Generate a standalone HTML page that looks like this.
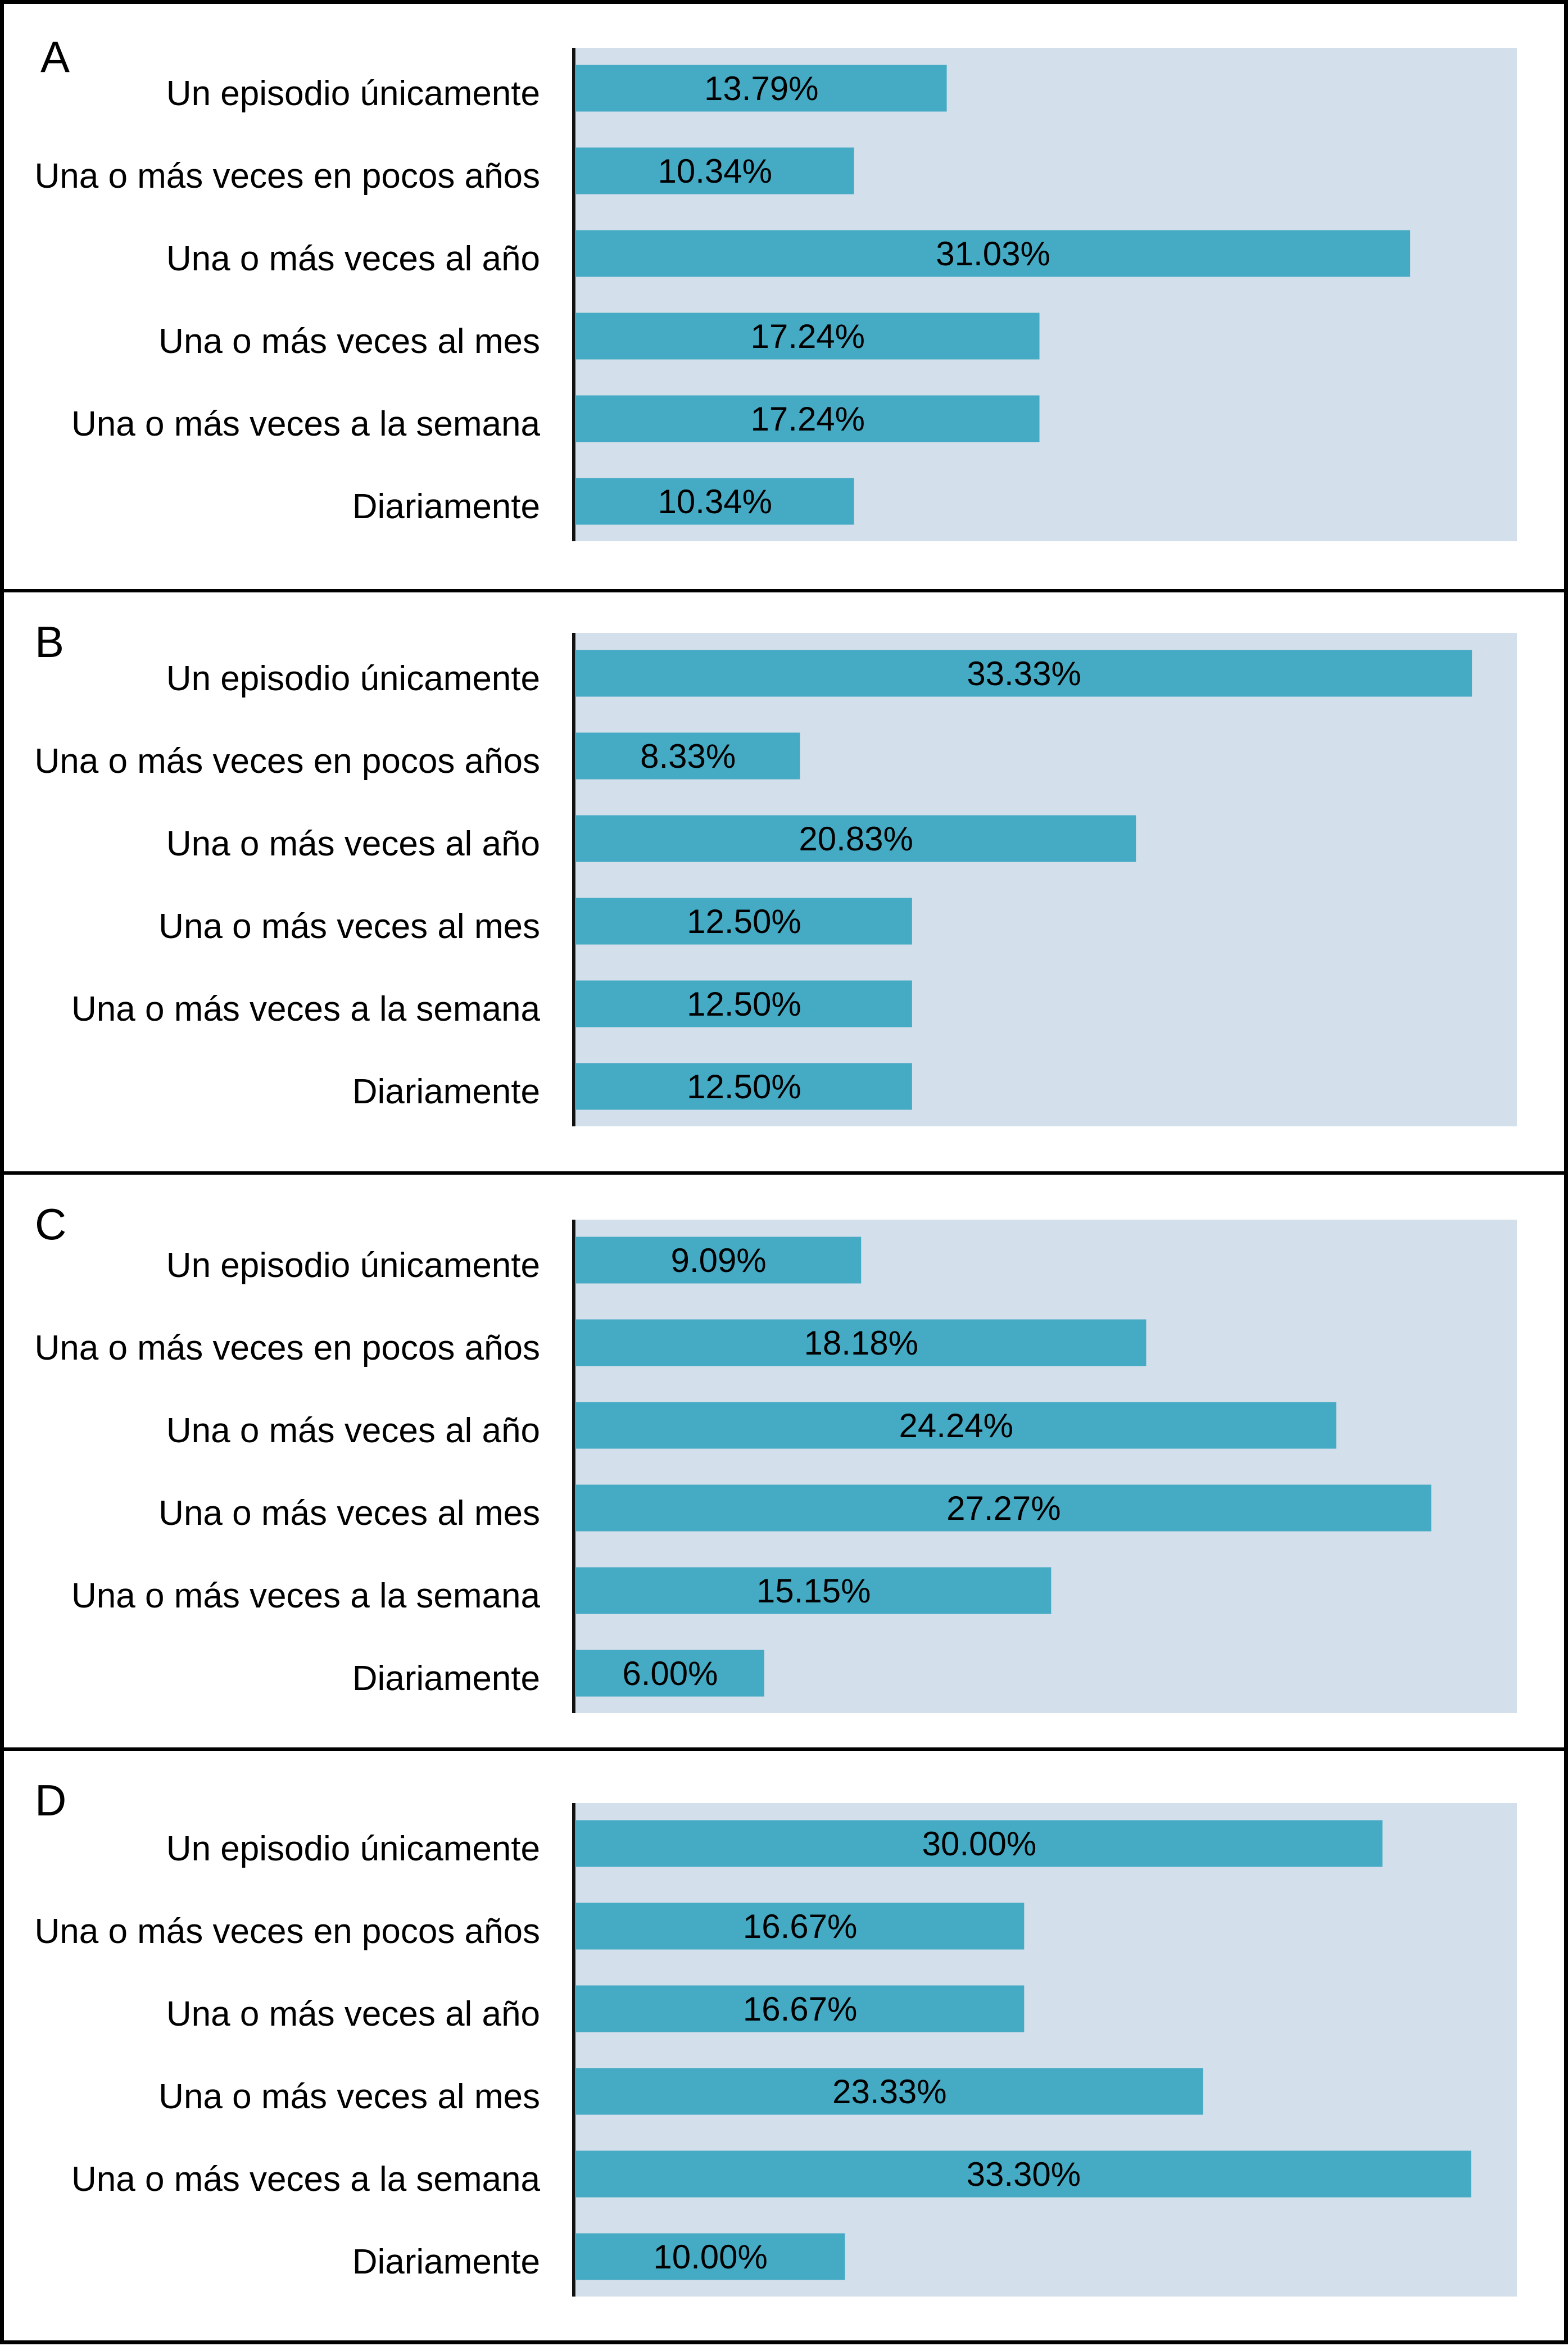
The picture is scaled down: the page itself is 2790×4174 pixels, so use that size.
<!DOCTYPE html>
<html><head><meta charset="utf-8"><style>
html,body{margin:0;padding:0;background:#fff;}
svg{display:block;font-family:"Liberation Sans",Arial,sans-serif;}
</style></head><body>
<svg id="chart" width="2790" height="4174" viewBox="0 0 2790 4174" xmlns="http://www.w3.org/2000/svg"></svg>
<script>
const categories = ["Un episodio únicamente","Una o más veces en pocos años","Una o más veces al año","Una o más veces al mes","Una o más veces a la semana","Diariamente"];
const panelLetters = ["A","B","C","D"];
const valuesA = [13.79,10.34,31.03,17.24,17.24,10.34];
const valuesB = [33.33,8.33,20.83,12.50,12.50,12.50];
const valuesC = [9.09,18.18,24.24,27.27,15.15,6.00];
const valuesD = [30.00,16.67,16.67,23.33,33.30,10.00];
const labelsA = ["13.79%","10.34%","31.03%","17.24%","17.24%","10.34%"];
const labelsB = ["33.33%","8.33%","20.83%","12.50%","12.50%","12.50%"];
const labelsC = ["9.09%","18.18%","24.24%","27.27%","15.15%","6.00%"];
const labelsD = ["30.00%","16.67%","16.67%","23.33%","33.30%","10.00%"];
const domainMax = [35,35,30,35];

const NS="http://www.w3.org/2000/svg";
const svg=document.getElementById('chart');
function mk(tag,attrs,parent){const e=document.createElementNS(NS,tag);for(const k in attrs)e.setAttribute(k,attrs[k]);(parent||svg).appendChild(e);return e;}

const allValues=[valuesA,valuesB,valuesC,valuesD];
const allLabels=[labelsA,labelsB,labelsC,labelsD];
const panelTops=[0,1051,2087,3112];
const bgTops=[85,1126,2170,3208];
const plotX0=1025, plotX1=2699, bgH=878, pitch=147, barH=83;

const frame=mk('rect',{x:3.5,y:3.5,width:2783,height:4164,fill:'none',stroke:'#000','stroke-width':7});



for(let p=0;p<4;p++){
  const g=mk('g',{});
  
  
  if(p>0){
    const sep=mk('line',{x1:0,x2:2790,y1:panelTops[p],y2:panelTops[p],stroke:'#000','stroke-width':6},g);
    
    
  }
  const letter=mk('text',{x:p==0?72:62,y:panelTops[p]+(p==0?128:118),'font-size':78,fill:'#000'},g);
  letter.textContent=panelLetters[p];
  
  
  const bgTop=bgTops[p];
  const bg=mk('rect',{x:plotX0,y:bgTop,width:plotX1-plotX0,height:bgH,fill:'#d3dfea'},g);
  
  
  const xScale=v=>plotX0+(v/domainMax[p])*(plotX1-plotX0);
  const vals=allValues[p], labs=allLabels[p];
  for(let i=0;i<categories.length;i++){
    const cy=bgTop+72+i*pitch;
    const w=xScale(vals[i])-plotX0;
    const bar=mk('rect',{x:plotX0,y:cy-barH/2,width:w,height:barH,fill:'#45aac4'},g);
    
    
    const vt=mk('text',{x:plotX0+w/2,y:cy+21,'font-size':60,'text-anchor':'middle',fill:'#000'},g);
    vt.textContent=labs[i];
    
    
    const ct=mk('text',{x:961,y:cy+30,'font-size':62,'text-anchor':'end',fill:'#000'},g);
    ct.textContent=categories[i];
    
    
  }
  const axis=mk('line',{x1:1021,x2:1021,y1:bgTop,y2:bgTop+bgH,stroke:'#111','stroke-width':6},g);
  
  
}
</script>
</body></html>
